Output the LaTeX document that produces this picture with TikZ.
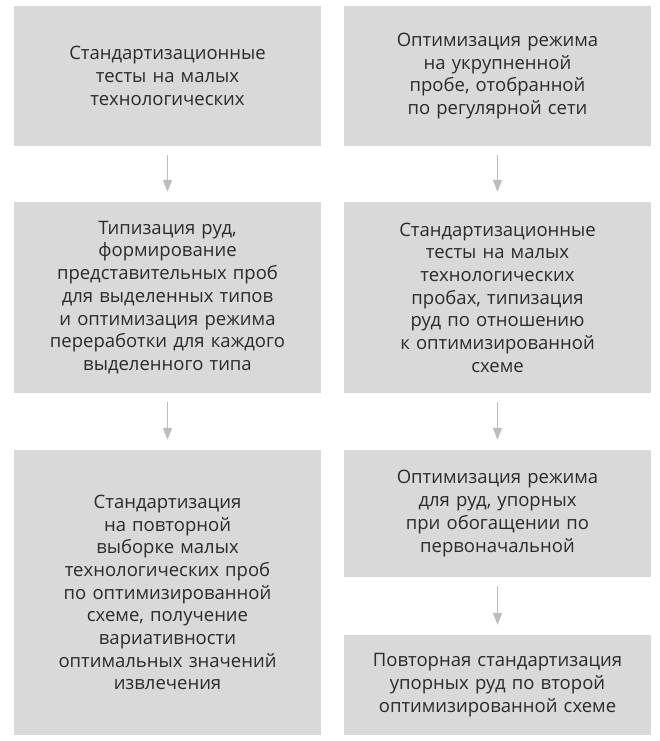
\documentclass[tikz,border=0pt]{standalone}
\usepackage{fontspec}
\setmainfont{Open Sans}
\usepackage{tikz}
\usetikzlibrary{arrows.meta}

\begin{document}
\begin{tikzpicture}[x=1pt, y=-1pt, box/.style={fill=boxgray, minimum width=307pt, text width=300pt, align=center, inner sep=0pt, text=textgray, font=\fontsize{18.5}{22.7}\selectfont}, n/.style={-{Triangle[width=9pt, length=12pt]}, line width=1.5pt, draw=arrowgray, shorten <=9pt, shorten >=10pt}]
                \definecolor{boxgray}{HTML}{D9D9D9}
                \definecolor{arrowgray}{HTML}{BDBDBD}
                \definecolor{textgray}{HTML}{2B2B2B}
                \useasboundingbox (0,0) rectangle (660,741);
                % left column
                \node[box, minimum height=140pt] (l1) at (167.5,76) {Стандартизационные\\тесты на малых\\технологических};
                \node[box, minimum height=191pt] (l2) at (167.5,297.5) {Типизация руд,\\формирование\\представительных проб\\для выделенных типов\\и оптимизация режима\\переработки для каждого\\выделенного типа};
                \node[box, minimum height=285pt] (l3) at (167.5,592.5) {Стандартизация\\на повторной\\выборке малых\\технологических проб\\по оптимизированной\\схеме, получение\\вариативности\\оптимальных значений\\извлечения};
                % right column
                \node[box, minimum height=140pt] (r1) at (497.5,76) {Оптимизация режима\\на укрупненной\\пробе, отобранной\\по регулярной сети};
                \node[box, minimum height=191pt] (r2) at (497.5,297.5) {Стандартизационные\\тесты на малых\\технологических\\пробах, типизация\\руд по отношению\\к оптимизированной\\схеме};
                \node[box, minimum height=127pt] (r3) at (497.5,513.5) {Оптимизация режима\\для руд, упорных\\при обогащении по\\первоначальной};
                \node[box, minimum height=100pt] (r4) at (497.5,685) {Повторная стандартизация\\упорных руд по второй\\оптимизированной схеме};
                % edges
                \draw [n] (l1) -- (l2);
                \draw [n] (l2) -- (l3);
                \draw [n] (r1) -- (r2);
                \draw [n] (r2) -- (r3);
                \draw [n] (r3) -- (r4);
            \end{tikzpicture}
\end{document}
